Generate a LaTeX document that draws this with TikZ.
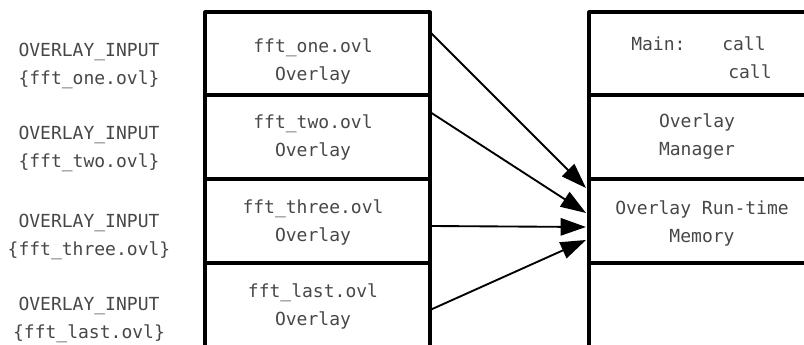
\documentclass[tikz,border=0pt]{standalone}
\usepackage{fontspec}
\newfontfamily\ovlfont{DejaVu Sans Mono}
\usetikzlibrary{arrows.meta}
\tikzset{lbl/.style={font=\ovlfont\fontsize{13.5}{21}\selectfont,text=black!72,align=center,inner sep=0pt},
  frame/.style={line width=2.3pt},
  link/.style={-{Triangle[length=19pt,width=13pt]},line width=1.4pt}}

\begin{document}
\begin{tikzpicture}[x=0.75pt,y=-0.75pt,line join=round]
\useasboundingbox (0,0) rectangle (804,345);
% --- overlay storage column, open at the bottom
\draw[frame] (205,345) -- (205,12) -- (430,12) -- (430,345);
\foreach \y in {95,179,263} {\draw[frame] (205,\y) -- (430,\y);}
% --- run-time memory column, open at the right and bottom
\draw[frame] (804,12) -- (589,12) -- (589,345);
\foreach \y in {95,179,263} {\draw[frame] (589,\y) -- (804,\y);}
% --- directives and overlay cells
\foreach \n/\yl/\yc in {one/66/61,two/149/137,three/237/222,last/320/306} {
  \node[lbl] (\n-dir) at (89,\yl) {OVERLAY\_INPUT\\\{fft\_\n.ovl\}};
  \node[lbl] (\n-ovl) at (313,\yc) {fft\_\n.ovl\\Overlay};
}
% --- memory cells
\node[lbl,anchor=west] (main) at (631,44) {Main:};
\node[lbl,anchor=west] (call-a) at (722,44) {call};
\node[lbl,anchor=west] (call-b) at (728,72) {call};
\node[lbl] (mgr) at (697,137) {Overlay\\Manager};
\node[lbl] (rtm) at (702,223) {Overlay Run-time\\Memory};
% --- loads into the run-time area
\foreach \n/\ys/\ye in {one/32/188,two/112/213,three/226/227,last/310/240} {
  \coordinate (\n-out) at (430,\ys); \coordinate (\n-in) at (586,\ye);
  \draw[link] (\n-out) -- (\n-in);
}
\end{tikzpicture}
\end{document}
